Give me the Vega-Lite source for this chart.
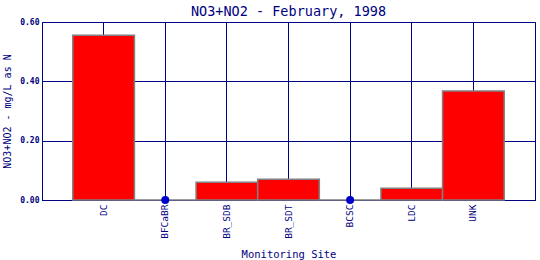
{
  "$schema": "https://vega.github.io/schema/vega-lite/v6.json",
  "width": 493,
  "height": 178,
  "autosize": {"type": "none"},
  "padding": {"left": 42, "top": 22, "right": 5, "bottom": 60},
  "background": "white",
  "title": {
    "text": "NO3+NO2 - February, 1998",
    "font": "DejaVu Sans Mono",
    "fontSize": 13.5,
    "fontWeight": "normal",
    "color": "#000080",
    "anchor": "middle",
    "offset": 0
  },
  "config": {
    "view": {"stroke": "#000080", "strokeWidth": 1},
    "axis": {
      "domainColor": "#000080",
      "gridColor": "#000080",
      "gridOpacity": 1,
      "gridWidth": 1,
      "tickColor": "#000080",
      "labelColor": "#000080",
      "titleColor": "#000080",
      "labelFont": "DejaVu Sans Mono",
      "titleFont": "DejaVu Sans Mono",
      "titleFontWeight": "normal"
    }
  },
  "data": {
    "values": [
      {"site": "DC", "value": 0.555},
      {"site": "BFCaBR", "value": 0},
      {"site": "BR_SDB", "value": 0.06},
      {"site": "BR_SDT", "value": 0.07},
      {"site": "BCSC", "value": 0},
      {"site": "LDC", "value": 0.04},
      {"site": "UNK", "value": 0.367}
    ]
  },
  "encoding": {
    "x": {
      "field": "site",
      "type": "nominal",
      "sort": null,
      "scale": {"type": "band", "paddingInner": 0, "paddingOuter": 0.5},
      "axis": {
        "title": "Monitoring Site",
        "titleFontSize": 10.5,
        "titlePadding": 11,
        "labelAngle": -90,
        "labelFontSize": 9.5,
        "labelFontWeight": "normal",
        "labelPadding": 4,
        "ticks": false,
        "bandPosition": 0.5,
        "grid": true,
        "domain": true
      }
    },
    "y": {
      "field": "value",
      "type": "quantitative",
      "scale": {"domain": [0, 0.6], "nice": false},
      "axis": {
        "title": "NO3+NO2 - mg/L as N",
        "titleFontSize": 10,
        "titlePadding": 7,
        "values": [0, 0.2, 0.4, 0.6],
        "format": ".2f",
        "labelFontSize": 8,
        "labelFontWeight": "bold",
        "tickSize": 0,
        "labelPadding": 3,
        "grid": true
      }
    }
  },
  "layer": [
    {
      "mark": {"type": "bar", "color": "#FF0000", "stroke": "#808080", "strokeWidth": 1.5, "width": {"band": 1}}
    },
    {
      "transform": [{"filter": "datum.value == 0"}],
      "mark": {"type": "point", "filled": true, "color": "#0000CC", "size": 64, "opacity": 1}
    }
  ]
}
